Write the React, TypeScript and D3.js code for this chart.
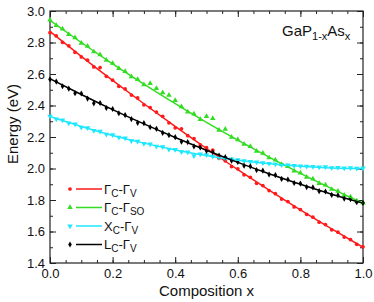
import React, { useRef, useEffect } from "react";
import * as d3 from "d3";

// composition grid of the measured points
const compX = [
  0, 0.02, 0.04, 0.06, 0.08, 0.1, 0.12, 0.14, 0.16, 0.18, 0.2, 0.22, 0.24, 0.26, 0.28, 0.3, 0.32,
  0.34, 0.36, 0.38, 0.4, 0.42, 0.44, 0.46, 0.48, 0.5, 0.52, 0.54, 0.56, 0.58, 0.6, 0.62, 0.64,
  0.66, 0.68, 0.7, 0.72, 0.74, 0.76, 0.78, 0.8, 0.82, 0.84, 0.86, 0.88, 0.9, 0.92, 0.94, 0.96,
  0.98, 1.0,
];

const gammaV = [
  2.862, 2.842, 2.801, 2.779, 2.738, 2.708, 2.688, 2.645, 2.641, 2.585, 2.561, 2.522, 2.505,
  2.466, 2.448, 2.404, 2.387, 2.358, 2.331, 2.29, 2.258, 2.252, 2.208, 2.19, 2.15, 2.132, 2.116,
  2.065, 2.049, 2.012, 1.998, 1.96, 1.944, 1.906, 1.892, 1.86, 1.84, 1.806, 1.79, 1.756, 1.739,
  1.709, 1.691, 1.659, 1.644, 1.611, 1.596, 1.565, 1.549, 1.519, 1.503,
];
const gammaSO = [
  2.943, 2.908, 2.887, 2.851, 2.831, 2.796, 2.776, 2.741, 2.722, 2.688, 2.668, 2.636, 2.617,
  2.583, 2.565, 2.532, 2.54, 2.508, 2.482, 2.465, 2.432, 2.392, 2.36, 2.346, 2.312, 2.33, 2.318,
  2.243, 2.25, 2.199, 2.183, 2.154, 2.14, 2.11, 2.098, 2.068, 2.055, 2.026, 2.014, 1.985, 1.972,
  1.945, 1.934, 1.906, 1.895, 1.868, 1.856, 1.831, 1.82, 1.794, 1.782,
];
const xV = [
  2.332, 2.313, 2.307, 2.288, 2.282, 2.262, 2.258, 2.241, 2.236, 2.217, 2.213, 2.198, 2.193,
  2.176, 2.172, 2.158, 2.155, 2.14, 2.138, 2.122, 2.12, 2.106, 2.105, 2.08, 2.092, 2.086, 2.078,
  2.071, 2.065, 2.06, 2.055, 2.049, 2.044, 2.04, 2.036, 2.032, 2.028, 2.024, 2.021, 2.018, 2.016,
  2.013, 2.012, 2.009, 2.01, 2.005, 2.006, 2.003, 2.004, 2.001, 2.002,
];
const lV = [
  2.566, 2.552, 2.522, 2.507, 2.478, 2.476, 2.444, 2.414, 2.416, 2.384, 2.378, 2.351, 2.339,
  2.314, 2.29, 2.288, 2.262, 2.252, 2.226, 2.212, 2.199, 2.17, 2.168, 2.14, 2.134, 2.112, 2.103,
  2.082, 2.072, 2.05, 2.042, 2.018, 2.014, 1.99, 1.986, 1.962, 1.958, 1.934, 1.93, 1.908, 1.904,
  1.882, 1.88, 1.856, 1.854, 1.832, 1.83, 1.809, 1.806, 1.786, 1.782,
];

// fitted curves, sampled every 0.1
const fitX = [0, 0.1, 0.2, 0.3, 0.4, 0.5, 0.6, 0.7, 0.8, 0.9, 1.0];
const fitGammaV = [2.87, 2.712, 2.559, 2.411, 2.267, 2.127, 1.993, 1.863, 1.737, 1.616, 1.5];
const fitGammaSO = [2.94, 2.8, 2.665, 2.536, 2.412, 2.293, 2.18, 2.072, 1.969, 1.872, 1.78];
const fitXV = [2.33, 2.267, 2.21, 2.161, 2.118, 2.082, 2.052, 2.03, 2.014, 2.003, 2.0];
const fitLV = [2.57, 2.47, 2.374, 2.283, 2.197, 2.116, 2.039, 1.967, 1.9, 1.837, 1.78];

const xMajor = [0, 0.2, 0.4, 0.6, 0.8, 1.0];
const yMajor = [1.4, 1.6, 1.8, 2.0, 2.2, 2.4, 2.6, 2.8, 3.0];

const FONT = "'Liberation Sans', Arial, Helvetica, sans-serif";

const series = [
  { name: ["Γ", "C", "-Γ", "V"], pts: gammaV, fit: fitGammaV, color: "#ff1a1a", shape: "circle" },
  { name: ["Γ", "C", "-Γ", "SO"], pts: gammaSO, fit: fitGammaSO, color: "#33dd22", shape: "up" },
  { name: ["X", "C", "-Γ", "V"], pts: xV, fit: fitXV, color: "#1ee8ff", shape: "down" },
  { name: ["L", "C", "-Γ", "V"], pts: lV, fit: fitLV, color: "#000000", shape: "diamond" },
];

const Chart = () => {
  const ref = useRef<SVGSVGElement>(null);
  useEffect(() => {
    const width = 374;
    const height = 302;
    const margin = { top: 11, right: 11, bottom: 39, left: 50 };

    const svg = d3.select(ref.current);
    svg.selectAll("*").remove();

    const x = d3.scaleLinear().domain([0, 1]).range([margin.left, width - margin.right]);
    const y = d3.scaleLinear().domain([1.4, 3.0]).range([height - margin.bottom, margin.top]);

    const xMinor = d3.range(0, 1.0001, 0.05);
    const yMinor = d3.range(1.4, 3.0001, 0.1);

    const fmt = d3.format(".1f");

    // bottom
    svg.append("g")
      .attr("transform", `translate(0,${y(1.4)})`)
      .call(d3.axisBottom(x).tickValues(xMinor).tickSize(-3).tickFormat(() => ""))
    svg.append("g")
      .attr("transform", `translate(0,${y(1.4)})`)
      .call(d3.axisBottom(x).tickValues(xMajor).tickSize(-6).tickPadding(6).tickFormat(fmt))
    // top
    svg.append("g")
      .attr("transform", `translate(0,${y(3.0)})`)
      .call(d3.axisTop(x).tickValues(xMinor).tickSize(-3).tickFormat(() => ""))
    svg.append("g")
      .attr("transform", `translate(0,${y(3.0)})`)
      .call(d3.axisTop(x).tickValues(xMajor).tickSize(-6).tickFormat(() => ""))
    // left
    svg.append("g")
      .attr("transform", `translate(${x(0)},0)`)
      .call(d3.axisLeft(y).tickValues(yMinor).tickSize(-3).tickFormat(() => ""))
    svg.append("g")
      .attr("transform", `translate(${x(0)},0)`)
      .call(d3.axisLeft(y).tickValues(yMajor).tickSize(-6).tickPadding(5).tickFormat(fmt))
    // right
    svg.append("g")
      .attr("transform", `translate(${x(1)},0)`)
      .call(d3.axisRight(y).tickValues(yMinor).tickSize(-3).tickFormat(() => ""))
    svg.append("g")
      .attr("transform", `translate(${x(1)},0)`)
      .call(d3.axisRight(y).tickValues(yMajor).tickSize(-6).tickFormat(() => ""))

    svg.selectAll(".domain").remove();
    svg.selectAll(".tick line").attr("stroke", "#222").attr("stroke-width", 1);
    svg.selectAll(".tick text")
      .attr("font-family", FONT)
      .attr("font-size", 13)
      .attr("fill", "#111");

    svg.append("rect")
      .attr("x", x(0))
      .attr("y", y(3.0))
      .attr("width", x(1) - x(0))
      .attr("height", y(1.4) - y(3.0))
      .attr("fill", "none")
      .attr("stroke", "#222")
      .attr("stroke-width", 1.2);

    const symbolOf = (shape: string) => {
      if (shape === "circle") return d3.symbol(d3.symbolCircle, 11)();
      if (shape === "diamond") return d3.symbol(d3.symbolDiamond, 11)();
      return d3.symbol(d3.symbolTriangle, 13)();
    };

    const line = d3.line<number>()
      .x((_, i) => x(fitX[i]))
      .y((d) => y(d))
      .curve(d3.curveNatural);

    const plot = svg.append("g");
    series.forEach((s) => {
      plot.append("g")
        .selectAll("path")
        .data(s.pts)
        .join("path")
        .attr("d", symbolOf(s.shape))
        .attr("fill", s.color)
        .attr("transform", (d, i) =>
          `translate(${x(compX[i])},${y(d)})${s.shape === "down" ? " rotate(180)" : ""}`);
    });
    series.forEach((s) => {
      plot.append("path")
        .datum(s.fit)
        .attr("fill", "none")
        .attr("stroke", s.color)
        .attr("stroke-width", 1.5)
        .attr("d", line);
    });

    // legend
    const legend = svg.append("g").attr("font-family", FONT).attr("fill", "#111");
    series.forEach((s, i) => {
      const ly = 189 + i * 18.5;
      legend.append("path")
        .attr("d", symbolOf(s.shape))
        .attr("fill", s.color)
        .attr("transform", `translate(70,${ly})${s.shape === "down" ? " rotate(180)" : ""}`);
      legend.append("line")
        .attr("x1", 76).attr("x2", 102)
        .attr("y1", ly).attr("y2", ly)
        .attr("stroke", s.color)
        .attr("stroke-width", 1.5);
      const t = legend.append("text")
        .attr("x", 104)
        .attr("y", ly + 4.5)
        .attr("font-size", 13);
      t.append("tspan").text(s.name[0]);
      t.append("tspan").attr("font-size", 10).attr("dy", 3).text(s.name[1]);
      t.append("tspan").attr("dy", -3).text(s.name[2]);
      t.append("tspan").attr("font-size", 10).attr("dy", 3).text(s.name[3]);
    });

    // title inside the plot
    const title = svg.append("text")
      .attr("x", 282)
      .attr("y", 36)
      .attr("font-family", FONT)
      .attr("font-size", 15)
      .attr("fill", "#111");
    title.append("tspan").text("GaP");
    title.append("tspan").attr("font-size", 11).attr("dy", 4).text("1-x");
    title.append("tspan").attr("dy", -4).text("As");
    title.append("tspan").attr("font-size", 11).attr("dy", 4).text("x");

    // axis titles
    svg.append("text")
      .attr("x", (x(0) + x(1)) / 2)
      .attr("y", 296)
      .attr("text-anchor", "middle")
      .attr("font-family", FONT)
      .attr("font-size", 15)
      .attr("fill", "#111")
      .text("Composition x");
    svg.append("text")
      .attr("transform", `translate(18,124) rotate(-90)`)
      .attr("text-anchor", "middle")
      .attr("font-family", FONT)
      .attr("font-size", 15)
      .attr("fill", "#111")
      .text("Energy (eV)");
  }, []);

  return (
    <svg
      ref={ref}
      width={374}
      height={302}
      style={{ position: "absolute", left: 0, top: 0, background: "#fff" }}
    ></svg>
  );
};

export default function App() {
  return <Chart />;
}
